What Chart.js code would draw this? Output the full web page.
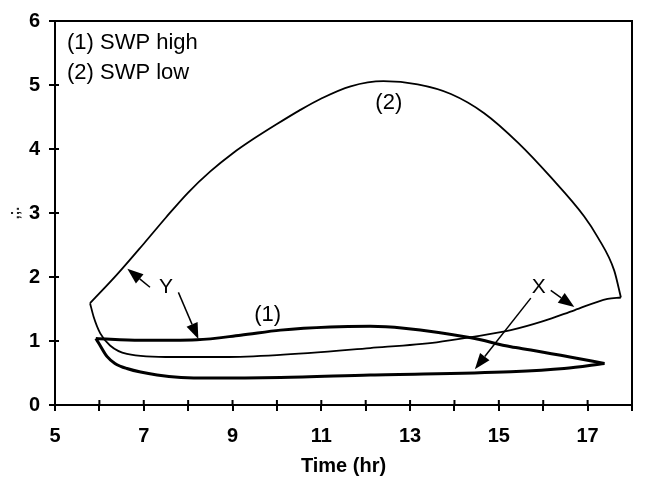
<!DOCTYPE html>
<html>
<head>
<meta charset="utf-8">
<script src="https://cdn.jsdelivr.net/npm/chart.js@4.4.0/dist/chart.umd.min.js"></script>
<style>
  html, body { margin: 0; padding: 0; background: #fff; }
  #wrap { width: 645px; height: 482px; position: relative; }
</style>
</head>
<body>
<div id="wrap"><canvas id="chart"></canvas></div>
<script>
// ─── Data ────────────────────────────────────────────
// (2) SWP low, Y branch (upper arc)
const lowYTime  = [5.79, 6.4, 7.0, 7.5, 8.0, 8.5, 9.0, 9.5, 10.0, 10.5, 11.0, 11.66, 12.4, 13.17, 13.92, 14.67, 15.43, 16.17, 16.92, 17.23, 17.6, 17.75];
const lowYValue = [1.59, 2.04, 2.52, 2.93, 3.32, 3.65, 3.93, 4.17, 4.39, 4.6, 4.79, 4.98, 5.06, 5.01, 4.86, 4.56, 4.1, 3.56, 2.95, 2.62, 2.1, 1.68];
// (2) SWP low, X branch (lower)
const lowXTime  = [5.79, 5.87, 6.02, 6.24, 6.62, 7.66, 8.8, 10.0, 12.1, 13.6, 14.37, 15.27, 16.0, 16.7, 17.45, 17.75];
const lowXValue = [1.59, 1.38, 1.12, 0.93, 0.80, 0.75, 0.75, 0.78, 0.89, 0.98, 1.06, 1.17, 1.31, 1.48, 1.66, 1.68];
// (1) SWP high, Y branch
const highYTime  = [5.92, 6.92, 8.2, 9.18, 10.08, 11.2, 12.1, 12.86, 14.37, 15.27, 15.72, 16.6, 17.38];
const highYValue = [1.04, 1.01, 1.02, 1.09, 1.17, 1.22, 1.23, 1.20, 1.05, 0.91, 0.86, 0.75, 0.65];
// (1) SWP high, X branch
const highXTime  = [5.92, 6.0, 6.17, 6.35, 6.62, 7.3, 8.42, 10.08, 12.1, 15.27, 16.47, 17.38];
const highXValue = [1.04, 0.95, 0.76, 0.65, 0.57, 0.47, 0.42, 0.43, 0.47, 0.52, 0.57, 0.65];

const xTickLabels = [5, 7, 9, 11, 13, 15, 17];
const legendLines = ['(1) SWP high', '(2) SWP low'];

const FONT = '"Liberation Sans", Arial, sans-serif';

function pts(xs, ys) {
  return xs.map((x, i) => ({ x: x, y: ys[i] }));
}

function lineSet(label, xs, ys, width) {
  return {
    label: label,
    data: pts(xs, ys),
    showLine: true,
    borderColor: '#000',
    borderWidth: width,
    pointRadius: 0,
    cubicInterpolationMode: 'monotone',
    fill: false,
  };
}

// box, inner tick marks, legend text, labels and arrows
const decorations = {
  id: 'decorations',
  afterDatasetsDraw(chart) {
    const { ctx, chartArea: a, scales: { x, y } } = chart;
    const px = v => x.getPixelForValue(v);
    const py = v => y.getPixelForValue(v);

    ctx.save();
    ctx.strokeStyle = '#000';
    ctx.fillStyle = '#000';
    ctx.lineWidth = 2;

    ctx.beginPath();
    ctx.moveTo(a.left, a.top);
    ctx.lineTo(a.right, a.top);
    ctx.lineTo(a.right, a.bottom + 6);
    ctx.stroke();

    ctx.beginPath();
    x.ticks.forEach(t => {
      const p = px(t.value);
      ctx.moveTo(p, a.bottom);
      ctx.lineTo(p, a.bottom - 5);
    });
    y.ticks.forEach(t => {
      const p = py(t.value);
      ctx.moveTo(a.left, p);
      ctx.lineTo(a.left + 4, p);
    });
    ctx.stroke();

    ctx.font = '22px ' + FONT;
    ctx.textBaseline = 'middle';
    ctx.textAlign = 'left';
    legendLines.forEach((s, i) => ctx.fillText(s, a.left + 12, a.top + 22 + i * 30));

    ctx.textAlign = 'center';
    ctx.fillText('(1)', px(9.79), py(1.40));
    ctx.fillText('(2)', px(12.52), py(4.72));
    ctx.font = '21px ' + FONT;
    ctx.fillText('Y', px(7.5), py(1.84));
    ctx.fillText('X', px(15.9), py(1.84));

    const arrow = (x0, y0, x1, y1) => {
      const ax = px(x0), ay = py(y0), bx = px(x1), by = py(y1);
      const ang = Math.atan2(by - ay, bx - ax);
      const len = 16, half = 6;
      const cx = bx - len * Math.cos(ang), cy = by - len * Math.sin(ang);
      ctx.lineWidth = 1.5;
      ctx.beginPath();
      ctx.moveTo(ax, ay);
      ctx.lineTo(cx, cy);
      ctx.stroke();
      ctx.beginPath();
      ctx.moveTo(bx, by);
      ctx.lineTo(cx + half * Math.sin(ang), cy - half * Math.cos(ang));
      ctx.lineTo(cx - half * Math.sin(ang), cy + half * Math.cos(ang));
      ctx.closePath();
      ctx.fill();
    };
    arrow(7.14, 1.84, 6.63, 2.13);
    arrow(7.78, 1.76, 8.23, 1.03);
    arrow(16.17, 1.79, 16.7, 1.53);
    arrow(15.72, 1.67, 14.46, 0.56);

    ctx.restore();
  }
};

new Chart(document.getElementById('chart'), {
  type: 'scatter',
  data: {
    datasets: [
      lineSet('(2) SWP low Y', lowYTime, lowYValue, 1.8),
      lineSet('(2) SWP low X', lowXTime, lowXValue, 1.8),
      lineSet('(1) SWP high Y', highYTime, highYValue, 3),
      lineSet('(1) SWP high X', highXTime, highXValue, 3),
    ],
  },
  options: {
    responsive: true,
    maintainAspectRatio: false,
    animation: false,
    layout: { padding: { top: 20, right: 11, left: 0, bottom: 0 } },
    plugins: {
      legend: { display: false },
      tooltip: { enabled: false },
    },
    scales: {
      x: {
        type: 'linear',
        min: 5, max: 18,
        afterFit(scale) { scale.height = 77; },
        border: { display: true, color: '#000', width: 2 },
        grid: { drawOnChartArea: false, drawTicks: true, tickLength: 6, color: '#000', lineWidth: 2 },
        ticks: {
          stepSize: 1,
          autoSkip: false,
          maxRotation: 0,
          padding: 13,
          color: '#000',
          font: { family: FONT, size: 20, weight: 'bold' },
          callback: v => xTickLabels.includes(v) ? String(v) : '',
        },
        title: {
          display: true,
          text: 'Time (hr)',
          color: '#000',
          font: { family: FONT, size: 20, weight: 'bold' },
          padding: { top: 0, bottom: 4 },
        },
      },
      y: {
        min: 0, max: 6,
        afterFit(scale) { scale.width = 55; },
        border: { display: true, color: '#000', width: 2 },
        grid: { drawOnChartArea: false, drawTicks: true, tickLength: 6, color: '#000', lineWidth: 2 },
        ticks: {
          stepSize: 1,
          padding: 9,
          color: '#000',
          font: { family: FONT, size: 20, weight: 'bold' },
        },
        title: {
          display: true,
          text: ',;.',
          color: '#222',
          font: { family: FONT, size: 14, weight: 'bold' },
          padding: { top: 7, bottom: 0 },
        },
      },
    },
  },
  plugins: [decorations],
});
</script>
</body>
</html>
